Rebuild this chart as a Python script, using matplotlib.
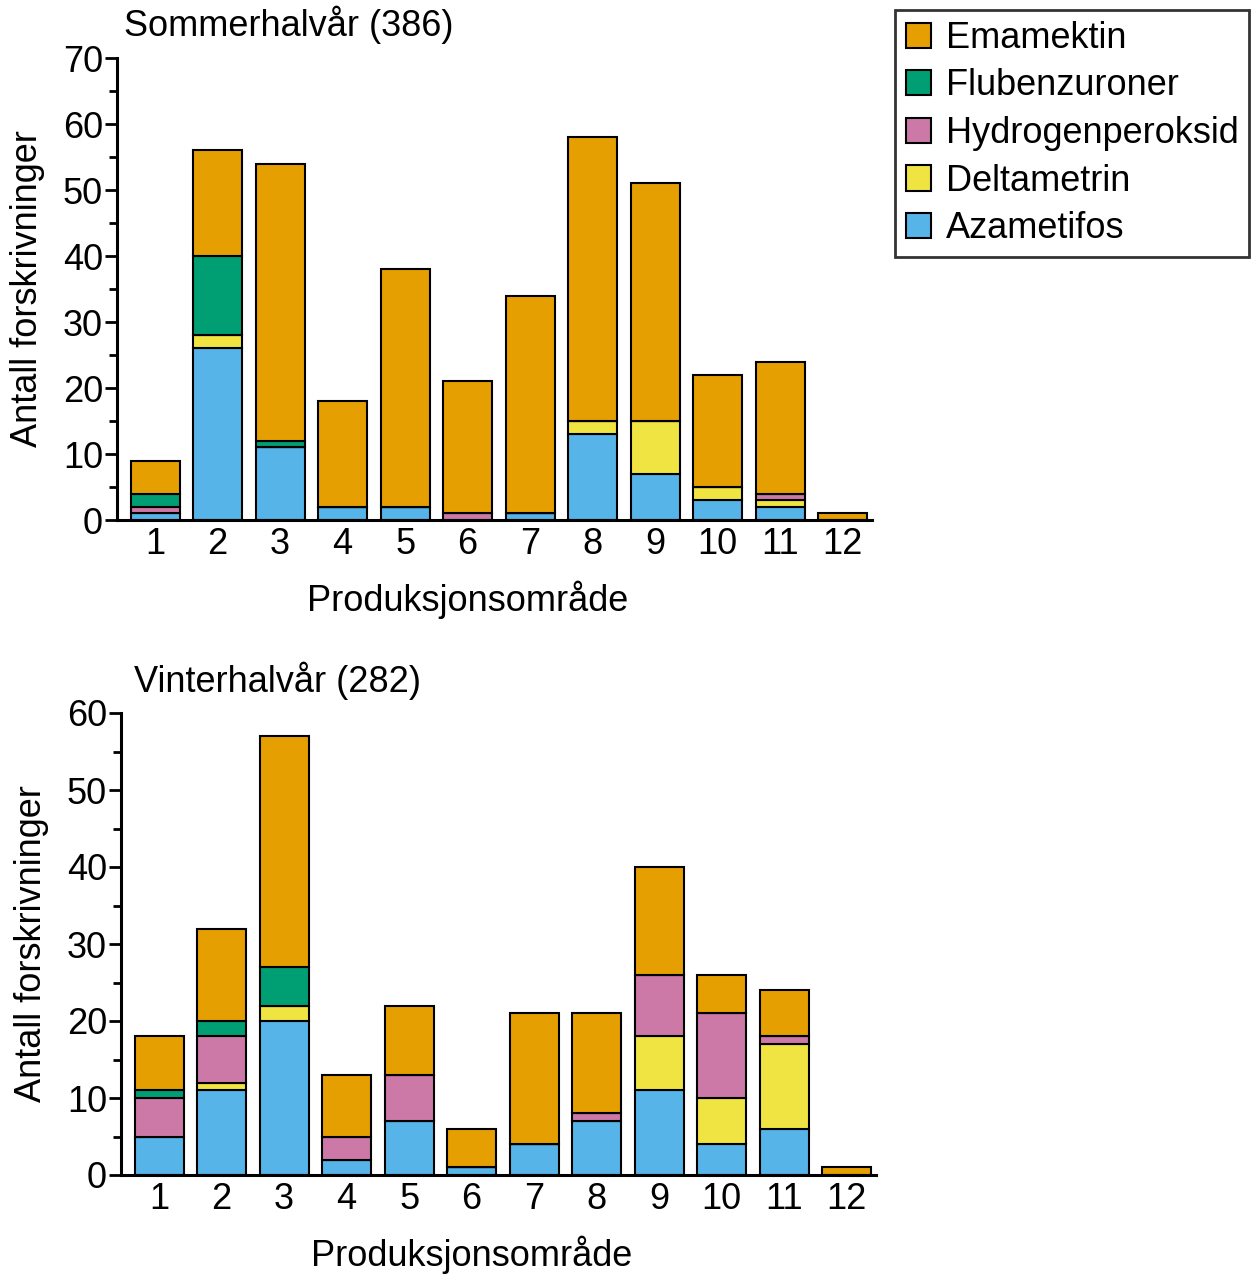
import matplotlib.pyplot as plt
from matplotlib.patches import Patch
from matplotlib.ticker import MultipleLocator

plt.rcParams["font.family"] = ["Liberation Sans", "DejaVu Sans"]

areas = [str(i) for i in range(1, 13)]

# stacking order, bottom to top
series = ["Azametifos", "Deltametrin", "Hydrogenperoksid", "Flubenzuroner", "Emamektin"]
colors = {
    "Emamektin": "#E69F00",
    "Flubenzuroner": "#009E73",
    "Hydrogenperoksid": "#CC79A7",
    "Deltametrin": "#F0E442",
    "Azametifos": "#56B4E9",
}

# Sommerhalvår
summer_aza = [1, 26, 11, 2, 2, 0, 1, 13, 7, 3, 2, 0]
summer_delta = [0, 2, 0, 0, 0, 0, 0, 2, 8, 2, 1, 0]
summer_hydro = [1, 0, 0, 0, 0, 1, 0, 0, 0, 0, 1, 0]
summer_flu = [2, 12, 1, 0, 0, 0, 0, 0, 0, 0, 0, 0]
summer_ema = [5, 16, 42, 16, 36, 20, 33, 43, 36, 17, 20, 1]

# Vinterhalvår
winter_aza = [5, 11, 20, 2, 7, 1, 4, 7, 11, 4, 6, 0]
winter_delta = [0, 1, 2, 0, 0, 0, 0, 0, 7, 6, 11, 0]
winter_hydro = [5, 6, 0, 3, 6, 0, 0, 1, 8, 11, 1, 0]
winter_flu = [1, 2, 5, 0, 0, 0, 0, 0, 0, 0, 0, 0]
winter_ema = [7, 12, 30, 8, 9, 5, 17, 13, 14, 5, 6, 1]

FS = 26
W, H = 1254, 1274
fig = plt.figure(figsize=(W / 100, H / 100), dpi=100)


def px_axes(left, top, right, bottom):
    return fig.add_axes([left / W, 1 - bottom / H, (right - left) / W, (bottom - top) / H])


def draw_panel(ax, stacks, ymax, title, title_x, title_y):
    x = list(range(1, 13))
    bottom = [0] * 12
    for name, vals in zip(series, stacks):
        ax.bar(x, vals, width=0.78, bottom=bottom, color=colors[name],
               edgecolor="black", linewidth=1.5, zorder=2)
        bottom = [b + v for b, v in zip(bottom, vals)]
    ax.set_xlim(0.39, 12.47)
    ax.set_ylim(0, ymax)
    ax.set_xticks(x)
    ax.set_xticklabels(areas)
    ax.yaxis.set_major_locator(MultipleLocator(10))
    ax.yaxis.set_minor_locator(MultipleLocator(5))
    for s in ["top", "right"]:
        ax.spines[s].set_visible(False)
    for s in ["left", "bottom"]:
        ax.spines[s].set_linewidth(2.2)
    ax.tick_params(axis="both", labelsize=FS, width=2, length=9, pad=1)
    ax.tick_params(axis="y", which="minor", width=2, length=6)
    ax.tick_params(axis="x", length=0, pad=5)
    ax.set_xlabel("Produksjonsområde", fontsize=FS, va="center")
    ax.xaxis.set_label_coords(0.464, -0.173)
    ax.set_ylabel("Antall forskrivninger", fontsize=FS, labelpad=13)
    fig.text(title_x / W, 1 - title_y / H, title, fontsize=FS, ha="left", va="center")


ax1 = px_axes(117, 58, 872, 520)
draw_panel(ax1, [summer_aza, summer_delta, summer_hydro, summer_flu, summer_ema],
           70, "Sommerhalvår (386)", 124, 25)

ax2 = px_axes(121, 713, 876, 1175)
draw_panel(ax2, [winter_aza, winter_delta, winter_hydro, winter_flu, winter_ema],
           60, "Vinterhalvår (282)", 134, 681)

handles = [Patch(facecolor=colors[n], edgecolor="black", linewidth=1.5, label=n)
           for n in ["Emamektin", "Flubenzuroner", "Hydrogenperoksid", "Deltametrin", "Azametifos"]]
leg = fig.legend(handles=handles, loc="upper left", bbox_to_anchor=(895 / W, 1 - 10 / H),
                 fontsize=FS, frameon=True, fancybox=False, edgecolor="black",
                 handlelength=0.7, handleheight=0.7, handletextpad=0.4,
                 labelspacing=0.35, borderpad=0.3, borderaxespad=0)
leg.get_frame().set_linewidth(2)

fig.savefig("out.png", dpi=100)
